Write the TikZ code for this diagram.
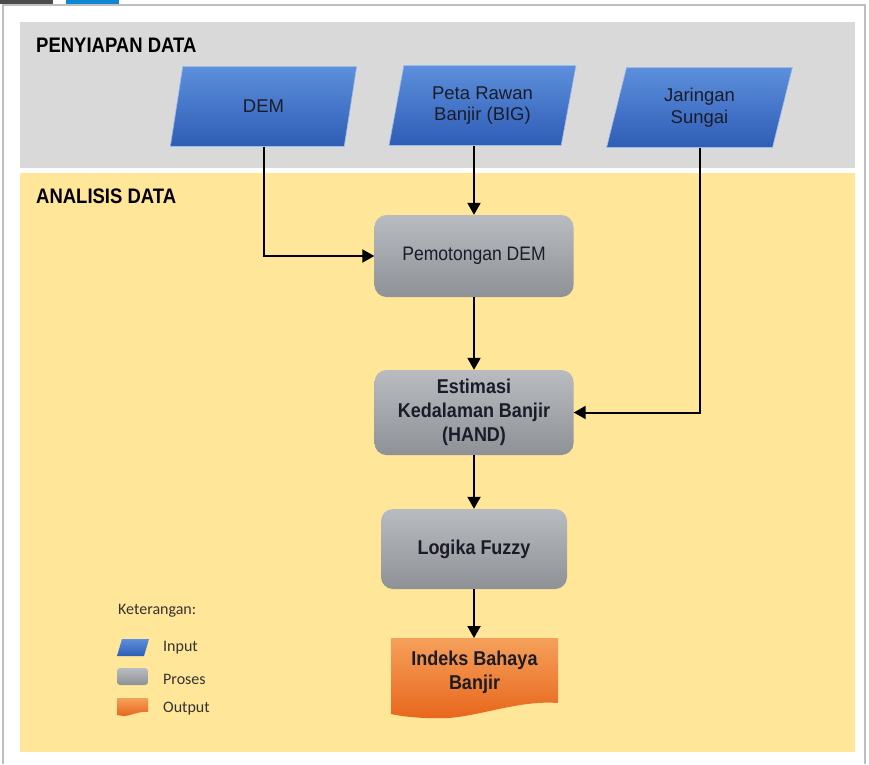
\documentclass[tikz,border=0pt]{standalone}
\usepackage{fontspec}
\setmainfont{Liberation Sans}
\newfontfamily\boxfont{Liberation Sans}[FakeStretch=0.9]
\newfontfamily\headfont{Liberation Sans}[FakeStretch=0.88]
\newfontfamily\legendfont{Carlito}
\usetikzlibrary{shapes.geometric,arrows.meta}

\definecolor{bandgrey}{HTML}{D9D9D9}
\definecolor{bandyellow}{HTML}{FFE699}
\definecolor{inTop}{HTML}{5C8FDC}
\definecolor{inBot}{HTML}{2F5DB6}
\definecolor{prTop}{HTML}{B8BBC0}
\definecolor{prBot}{HTML}{8E9196}
\definecolor{outTop}{HTML}{F5A05A}
\definecolor{outBot}{HTML}{E8661C}
\definecolor{ink}{HTML}{1C1C28}
\definecolor{legendink}{HTML}{333333}
\definecolor{framegrey}{HTML}{BFBFBF}

\tikzset{
  inputbox/.style={trapezium, trapezium left angle=76, trapezium right angle=104,
    trapezium stretches=true, minimum width=187pt, minimum height=80pt,
    top color=inTop, bottom color=inBot, draw=inTop!60!white, line width=0.6pt,
    align=center, text=ink, font=\fontsize{18.5}{21.5}\selectfont, inner sep=0pt},
  procbox/.style={rectangle, rounded corners=12pt, top color=prTop, bottom color=prBot,
    draw=none, align=center, text=ink, inner sep=0pt},
  flow/.style={line width=2pt, draw=black,
    -{Triangle[length=12pt,width=13pt]}},
  heading/.style={anchor=base west, inner sep=0pt,
    font=\headfont\bfseries\fontsize{21}{24}\selectfont, text=black},
  legendtext/.style={anchor=west, inner sep=0pt,
    font=\legendfont\fontsize{16}{18}\selectfont, text=legendink},
  legendkey/.style={minimum width=31pt, minimum height=17pt, inner sep=0pt}
}

\begin{document}
\begin{tikzpicture}[x=1pt,y=-1pt]
  \useasboundingbox (0,0) rectangle (869,764);
  \fill[white] (0,0) rectangle (869,764);

  % window frame
  \draw[framegrey, line width=1.5pt] (3,764) -- (3,5) -- (865,5) -- (865,764);
  \fill[black!70] (0,0) rectangle (53,4);
  \fill[cyan!70!blue] (66,0) rectangle (119,4);

  % bands
  \fill[bandgrey] (20,22) rectangle (855,168);
  \fill[bandyellow] (20,173) rectangle (855,752);
  \node[heading] (hprep) at (36,52) {PENYIAPAN DATA};
  \node[heading] (hanal) at (36,203) {ANALISIS DATA};

  % inputs
  \node[inputbox] (dem) at (263.5,106.5) {DEM};
  \node[inputbox] (peta) at (482.5,105.5) {Peta Rawan\\Banjir (BIG)};
  \node[inputbox] (sungai) at (699.5,107.5) {Jaringan\\Sungai};

  % processes
  \node[procbox, minimum width=199pt, minimum height=82pt,
        font=\boxfont\fontsize{19.5}{22}\selectfont] (cut) at (474,256) {Pemotongan DEM};
  \node[procbox, minimum width=199pt, minimum height=85pt,
        font=\boxfont\bfseries\fontsize{20}{24}\selectfont] (hand) at (474,412.5)
        {Estimasi\\Kedalaman Banjir\\(HAND)};
  \node[procbox, minimum width=186pt, minimum height=80pt,
        font=\boxfont\bfseries\fontsize{20}{24}\selectfont] (fuzzy) at (474,549) {Logika Fuzzy};

  % output (document shape with wavy bottom)
  \shade[top color=outTop, bottom color=outBot]
    (391,638) -- (558,638) -- (558,703)
    .. controls (520,700) and (480,716) .. (448,718)
    .. controls (420,719) and (400,716) .. (391,714) -- cycle;
  \node[align=center, text=ink, font=\boxfont\bfseries\fontsize{20}{24}\selectfont,
        minimum width=167pt, minimum height=70pt, inner sep=0pt] (out) at (474.5,672)
        {Indeks Bahaya\\Banjir};

  % connectors
  \coordinate (outtop) at (474,638);
  \draw[flow] (dem.south) |- (cut.west);
  \draw[flow] (cut.north |- peta.south) -- (cut.north);
  \draw[flow] (sungai.south) |- (hand.east);
  \draw[flow] (cut.south) -- (hand.north);
  \draw[flow] (hand.south) -- (fuzzy.north);
  \draw[flow] (fuzzy.south) -- (outtop);

  % legend
  \node[legendtext] (lgtitle) at (118,611) {Keterangan:};
  \shade[top color=inTop, bottom color=inBot]
    (122,639) -- (149,639) -- (144,656) -- (117,656) -- cycle;
  \node[legendkey] (lgin) at (133,647.5) {};
  \node[legendtext] (lgintext) at (163,648) {Input};
  \shade[top color=prTop, bottom color=prBot, rounded corners=3pt]
    (117,668) rectangle (148,685);
  \node[legendkey] (lgpr) at (132.5,676.5) {};
  \node[legendtext] (lgprtext) at (163,679) {Proses};
  \shade[top color=outTop, bottom color=outBot]
    (117,698) -- (148,698) -- (148,712)
    .. controls (138,711) and (130,716) .. (124,716)
    .. controls (121,716) and (119,715) .. (117,715) -- cycle;
  \node[legendkey] (lgout) at (132.5,707) {};
  \node[legendtext] (lgouttext) at (163,709) {Output};
\end{tikzpicture}
\end{document}
